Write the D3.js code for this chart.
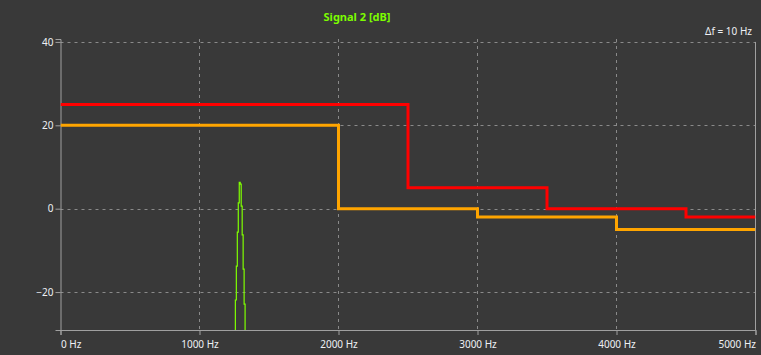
<!DOCTYPE html>
<html lang="en">
<head>
<meta charset="UTF-8">
<title>Signal 2 [dB]</title>
<script src="https://d3js.org/d3.v7.min.js"></script>
<style>
  body { margin: 0; background: #393939; }
  svg text { font-family: "Noto Sans", "Open Sans", sans-serif; }
</style>
</head>
<body>
<svg id="main" width="761" height="355"></svg>
<script>
// limit lines: [frequency Hz, level dB]
const redLimit = [[0, 25], [2500, 5], [3500, 0], [4500, -2], [5000, -2]];
const orangeLimit = [[0, 20], [2000, 0], [3000, -2], [4000, -5], [5000, -5]];

// spectrum peak around 1.3 kHz
const peakFreq = [1240, 1258, 1265, 1272, 1279, 1286, 1293, 1300, 1307, 1314, 1321, 1328, 1345];
const peakDb = [-60, -21.9, -13.8, -5.6, 1.4, 6.3, 5.9, 0.6, -6.3, -14.5, -22.9, -60, -60];

const xTicks = [0, 1000, 2000, 3000, 4000, 5000];
const yTicks = [-20, 0, 20, 40];

const svg = d3.select('svg#main');
const plotL = 60.5, plotR = 755.5, plotT = 39, plotB = 330;

const x = d3.scaleLinear().domain([0, 5000]).range([plotL, plotR]);
const y = d3.scaleLinear().domain([-29.1, 40.7]).range([plotB, plotT]);

svg.append('rect').attr('width', 761).attr('height', 355).attr('fill', '#393939');

svg.append('defs').append('clipPath').attr('id', 'plot')
  .append('rect').attr('x', plotL).attr('y', plotT).attr('width', plotR - plotL).attr('height', plotB - plotT);

// grid
svg.append('g').selectAll('line').data(yTicks).join('line')
  .attr('x1', plotL).attr('x2', plotR)
  .attr('y1', d => Math.round(y(d)) + 0.5).attr('y2', d => Math.round(y(d)) + 0.5)
  .attr('stroke', '#8a8a8a').attr('stroke-dasharray', '3,4');
svg.append('g').selectAll('line').data(xTicks.slice(1, -1)).join('line')
  .attr('x1', d => Math.round(x(d)) - 0.5).attr('x2', d => Math.round(x(d)) - 0.5)
  .attr('y1', plotT).attr('y2', plotB)
  .attr('stroke', '#8a8a8a').attr('stroke-dasharray', '3,4');

// axes
const yAxis = svg.append('g').attr('transform', `translate(${plotL},0)`)
  .call(d3.axisLeft(y).tickValues(yTicks).tickSize(5).tickPadding(2).tickFormat(d3.format('d')));
const xAxis = svg.append('g').attr('transform', `translate(0,${plotB})`)
  .call(d3.axisBottom(x).tickValues(xTicks).tickSize(5).tickPadding(6).tickFormat(d => d + ' Hz'));
[xAxis, yAxis].forEach(a => {
  a.select('.domain').attr('stroke', '#a0a0a0');
  a.selectAll('.tick line').attr('stroke', '#a0a0a0');
  a.selectAll('text').attr('fill', '#eef0f4').attr('font-size', 10);
});
xAxis.selectAll('text').filter(d => d === 0).attr('text-anchor', 'start');
xAxis.selectAll('text').filter(d => d === 5000).attr('text-anchor', 'end');

// right frame
svg.append('line').attr('x1', plotR).attr('x2', plotR).attr('y1', y(40)).attr('y2', plotB)
  .attr('stroke', '#a0a0a0');

const plot = svg.append('g').attr('clip-path', 'url(#plot)');

const stepLine = d3.line().x(d => x(d[0])).y(d => y(d[1])).curve(d3.curveStepAfter);

plot.append('path').datum(d3.zip(peakFreq, peakDb))
  .attr('d', stepLine).attr('fill', 'none').attr('stroke', '#7fff00').attr('stroke-width', 1.2);

plot.append('path').datum(orangeLimit)
  .attr('d', stepLine).attr('fill', 'none').attr('stroke', '#ffa500').attr('stroke-width', 3);
plot.append('path').datum(redLimit)
  .attr('d', stepLine).attr('fill', 'none').attr('stroke', '#ff0000').attr('stroke-width', 3);

// titles
svg.append('text').attr('x', 357).attr('y', 21).attr('text-anchor', 'middle')
  .attr('fill', '#7cfc00').attr('font-size', 11).attr('font-weight', 'bold').text('Signal 2 [dB]');
svg.append('text').attr('x', 752).attr('y', 35).attr('text-anchor', 'end')
  .attr('fill', '#eef0f4').attr('font-size', 10).text('Δf = 10 Hz');
</script>
</body>
</html>
